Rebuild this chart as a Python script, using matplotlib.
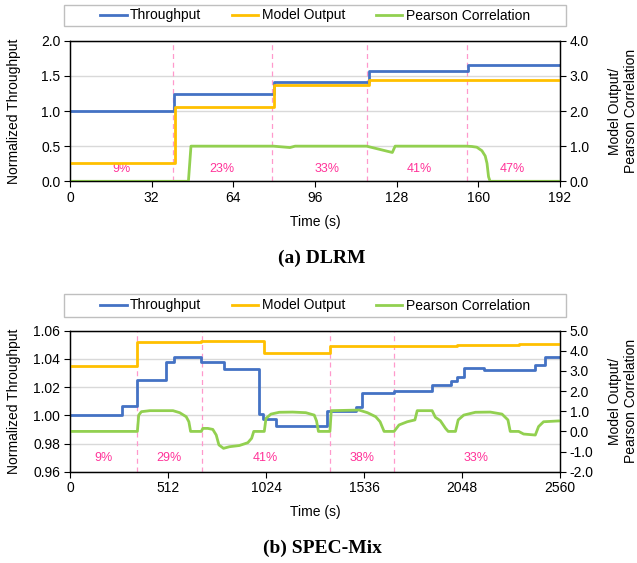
import matplotlib
matplotlib.use("Agg")
import matplotlib.pyplot as plt
import matplotlib.ticker as mticker
from matplotlib.patches import Rectangle

plt.rcParams['font.family'] = ['Liberation Sans', 'DejaVu Sans']
plt.rcParams['font.size'] = 10

BLUE = '#4472C4'
ORANGE = '#FFC000'
GREEN = '#92D050'
PINK = '#FF3399'

# ---- (a) DLRM ----
a_tp_t = [0, 40.6, 79.8, 117.0, 156.0, 192]
a_tp = [1.00, 1.24, 1.41, 1.57, 1.65, 1.65]
a_mo_t = [0, 41.0, 80.0, 117.0, 192]
a_mo = [0.51, 2.12, 2.75, 2.88, 2.88]
a_pc_t = [0, 46.4, 47.4, 79.7, 86.2, 88.2, 116.2, 126.3, 127.4, 155.4,
          157.5, 159.4, 161.4, 162.7, 163.4, 164.0, 164.6, 192]
a_pc = [0, 0, 1.0, 1.0, 0.96, 1.0, 1.0, 0.82, 1.0, 1.0,
        0.99, 0.97, 0.87, 0.72, 0.51, 0.13, 0, 0]
a_phase = [40.2, 79.3, 116.2, 155.4]
a_pct = ['9%', '23%', '33%', '41%', '47%']
a_pct_x = [20, 59.7, 100.6, 137, 173.4]

# ---- (b) SPEC-Mix ----
b_tp_t = [0, 271, 352, 500, 543, 686, 807, 990, 1010, 1076, 1345, 1493, 1525,
          1693, 1892, 1988, 2023, 2059, 2163, 2430, 2480, 2560]
b_tp = [1.000, 1.0066, 1.0247, 1.0381, 1.0416, 1.0381, 1.0325, 1.001, 0.9972,
        0.9922, 1.0031, 1.0059, 1.0158, 1.0172, 1.0212, 1.024, 1.0275, 1.0336,
        1.0318, 1.0358, 1.0412, 1.0412]
b_mo_t = [0, 352, 686, 1015, 1358, 2023, 2344, 2560]
b_mo = [3.26, 4.42, 4.47, 3.87, 4.24, 4.30, 4.34, 4.34]
b_pc_t = [0, 352, 359, 373, 417, 538, 573, 607, 621, 630, 686, 694, 720, 746,
          764, 778, 802, 833, 885, 929, 949, 960, 1015, 1024, 1050, 1093, 1163,
          1232, 1276, 1288, 1298, 1358, 1365, 1510, 1554, 1597, 1620, 1641,
          1693, 1719, 1762, 1802, 1814, 1892, 1909, 1935, 1962, 1976, 2014,
          2028, 2057, 2118, 2196, 2257, 2288, 2300, 2344, 2370, 2431, 2448,
          2474, 2552, 2560]
b_pc = [0, 0, 0.81, 0.98, 1.03, 1.03, 0.93, 0.73, 0.48, 0, 0, 0.15, 0.15, 0.1,
        -0.18, -0.67, -0.84, -0.76, -0.7, -0.56, -0.34, 0, 0, 0.65, 0.86, 0.95,
        0.96, 0.93, 0.81, 0.52, 0, 0, 1.03, 1.06, 0.93, 0.73, 0.48, 0,
        0, 0.32, 0.48, 0.57, 1.03, 1.03, 0.7, 0.53, 0.15, 0, 0,
        0.57, 0.81, 0.95, 0.96, 0.86, 0.57, 0, 0, -0.13, -0.18, 0.24,
        0.48, 0.52, 0.52]
b_phase = [352, 689, 1358, 1693]
b_pct = ['9%', '29%', '41%', '38%', '33%']
b_pct_x = [174, 517, 1019, 1524, 2123]

W, H = 637, 563
fig = plt.figure(figsize=(W / 100, H / 100), dpi=100)


def px(x0, y0, x1, y1):
    # pixel box (top-left origin) -> figure fraction rect
    return [x0 / W, 1 - y1 / H, (x1 - x0) / W, (y1 - y0) / H]


def panel(rect, leg_rect, t_tp, tp, t_mo, mo, t_pc, pc, phases, pct, pct_x, pct_y,
          xmax, xstep, ylim, ystep, yfmt, y2lim, y2step, caption, cap_y):
    ax = fig.add_axes(px(*rect))
    ax2 = ax.twinx()

    ax.set_xlim(0, xmax)
    ax.set_xticks(range(0, xmax + 1, xstep))
    ax.set_ylim(*ylim)
    ax.yaxis.set_major_locator(mticker.MultipleLocator(ystep))
    ax.yaxis.set_major_formatter(mticker.FormatStrFormatter(yfmt))
    ax2.set_ylim(*y2lim)
    ax2.yaxis.set_major_locator(mticker.MultipleLocator(y2step))
    ax2.yaxis.set_major_formatter(mticker.FormatStrFormatter('%.1f'))

    ax.grid(axis='y', color='#D9D9D9', lw=1)
    ax.set_axisbelow(True)
    for a in (ax, ax2):
        a.tick_params(direction='out', length=4, width=0.8, labelsize=10, pad=3)
        for s in a.spines.values():
            s.set_color('black')
            s.set_linewidth(0.9)

    for p in phases:
        ax.axvline(p, color='#FF99CC', ls=(0, (4, 3)), lw=0.9, zorder=1)
    for lbl, x in zip(pct, pct_x):
        ax.text(x, pct_y, lbl, color=PINK, fontsize=9, ha='center', va='center')

    h1, = ax.plot(t_tp, tp, color=BLUE, lw=2, drawstyle='steps-post', label='Throughput')
    h2, = ax2.plot(t_mo, mo, color=ORANGE, lw=2, drawstyle='steps-post', label='Model Output')
    h3, = ax2.plot(t_pc, pc, color=GREEN, lw=2, label='Pearson Correlation')

    ax.set_xlabel('Time (s)', fontsize=10, labelpad=7)
    ax.set_ylabel('Normalized Throughput', fontsize=10)
    ax.yaxis.set_label_coords(-0.1, 0.5)
    ax2.set_ylabel('Model Output/\nPearson Correlation', fontsize=10)
    ax2.yaxis.set_label_coords(1.097, 0.5)

    lx0, ly0, lw_, lh = px(*leg_rect)
    fig.patches.append(Rectangle((lx0, ly0), lw_, lh, transform=fig.transFigure,
                                 fill=False, edgecolor='#BFBFBF', lw=1))
    fig.legend(handles=[h1, h2, h3], loc='center', ncol=3,
               bbox_to_anchor=(lx0 + lw_ / 2, ly0 + lh / 2), frameon=False,
               fontsize=10, handlelength=1.9, handletextpad=0.25, columnspacing=2.2,
               borderpad=0, borderaxespad=0)

    fig.text(322 / W, 1 - cap_y / H, caption, ha='center', va='center',
             family='Liberation Serif', fontweight='bold', fontsize=14)


panel((70, 40.7, 560, 181.3), (64, 5, 566, 26), a_tp_t, a_tp, a_mo_t, a_mo,
      a_pc_t, a_pc, a_phase, a_pct, a_pct_x, 0.175,
      192, 32, (0, 2), 0.5, '%.1f', (0, 4), 1.0, '(a) DLRM', 258)
panel((70, 330.7, 560, 471.7), (64, 294, 566, 317), b_tp_t, b_tp, b_mo_t, b_mo,
      b_pc_t, b_pc, b_phase, b_pct, b_pct_x, 0.9694,
      2560, 512, (0.96, 1.06), 0.02, '%.2f', (-2, 5), 1.0, '(b) SPEC-Mix', 548)

fig.savefig('out.png', dpi=100)
